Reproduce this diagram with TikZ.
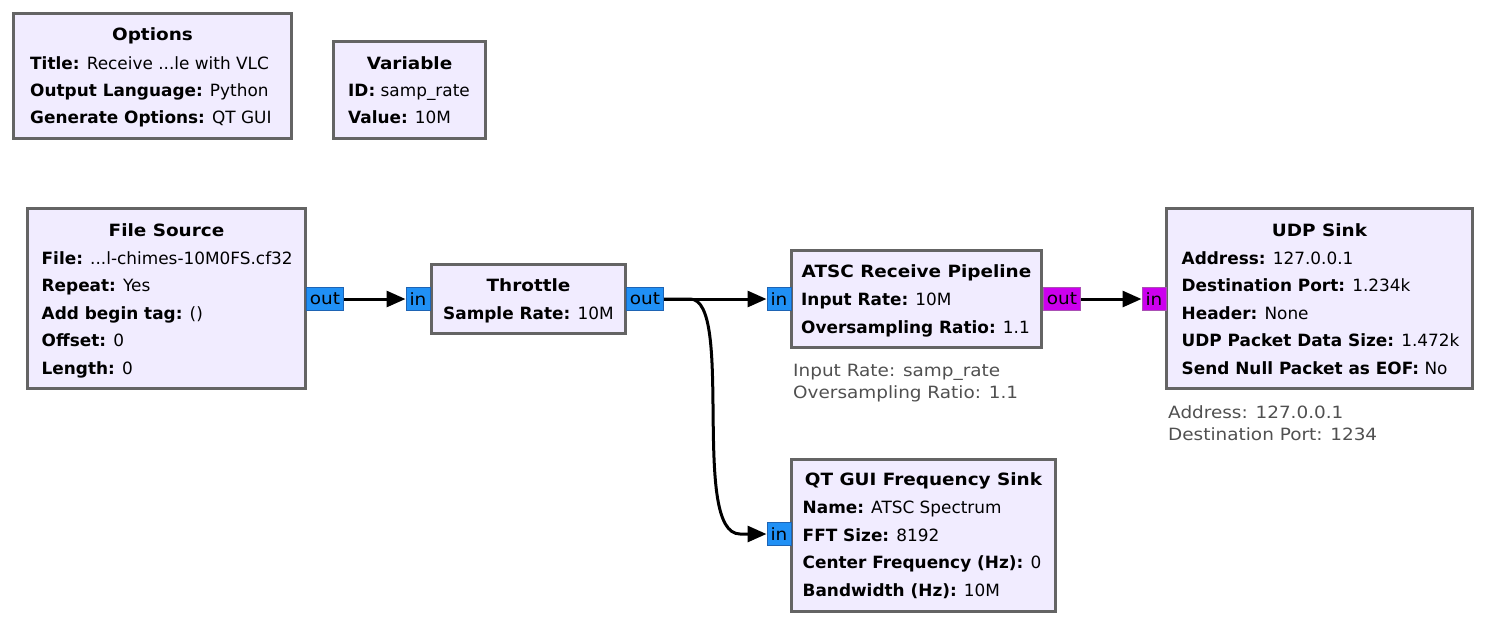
\documentclass[tikz,border=0pt]{standalone}
\usepackage{fontspec}
\setmainfont{DejaVu Sans}
\newfontfamily\widefont{DejaVu Sans}[FakeStretch=1.09]
\usetikzlibrary{arrows.meta}

\definecolor{blockfill}{RGB}{241,236,255}
\definecolor{blockline}{RGB}{100,100,100}
\definecolor{cplxfill}{RGB}{32,144,245}
\definecolor{cplxline}{RGB}{30,100,180}
\definecolor{bytefill}{RGB}{204,0,238}
\definecolor{byteline}{RGB}{170,80,180}
\definecolor{commentgray}{RGB}{80,80,80}

\tikzset{
  block/.style={draw=blockline, fill=blockfill, line width=3pt, inner sep=0pt, outer sep=0pt, anchor=north west},
  head/.style={inner sep=0pt, anchor=base, font=\fontsize{16.9pt}{20pt}\widefont\bfseries},
  prop/.style={inner sep=0pt, anchor=base west},
  cplxport/.style={draw=cplxline, fill=cplxfill, line width=1pt, inner sep=0pt, minimum height=23pt, font=\fontsize{16.9pt}{20pt}\widefont},
  byteport/.style={draw=byteline, fill=bytefill, line width=1pt, inner sep=0pt, minimum height=23pt, font=\fontsize{16.9pt}{20pt}\widefont},
  note/.style={inner sep=0pt, anchor=base west, text=commentgray, font=\fontsize{16.9pt}{20pt}\widefont},
  link/.style={line width=3pt, -{Triangle[length=19pt,width=16pt]}}
}

\begin{document}
\begin{tikzpicture}[x=1pt, y=-1pt, font=\fontsize{16.9pt}{20pt}\selectfont]

\useasboundingbox (0,0) rectangle (1486,625);

% Options block
\node[block, minimum width=278pt, minimum height=125pt] (opts) at (13.5,13.5) {};
\node[head] (opts-t) at (152.5,40.5) {Options};
\node[prop] (opts-1) at (30,69) {\textbf{Title:} Receive ...le with VLC};
\node[prop] (opts-2) at (30,96.5) {\textbf{Output Language:} Python};
\node[prop] (opts-3) at (30,123.5) {\textbf{Generate Options:} QT GUI};

% Variable block
\node[block, minimum width=152pt, minimum height=97pt] (var) at (333.5,41.5) {};
\node[head] (var-t) at (409.5,69) {Variable};
\node[prop] (var-1) at (348,96.5) {\textbf{ID:} samp\_rate};
\node[prop] (var-2) at (348,123.5) {\textbf{Value:} 10M};

% File Source block
\node[block, minimum width=278pt, minimum height=180pt] (fsrc) at (27.5,208.5) {};
\node[head] (fsrc-t) at (166.5,236) {File Source};
\node[prop] (fsrc-1) at (41.5,264) {\textbf{File:} ...l-chimes-10M0FS.cf32};
\node[prop] (fsrc-2) at (41.5,291.5) {\textbf{Repeat:} Yes};
\node[prop] (fsrc-3) at (41.5,319) {\textbf{Add begin tag:} ()};
\node[prop] (fsrc-4) at (41.5,346.5) {\textbf{Offset:} 0};
\node[prop] (fsrc-5) at (41.5,374) {\textbf{Length:} 0};

% Throttle block
\node[block, minimum width=194.5pt, minimum height=69pt] (thr) at (431,264.5) {};
\node[head] (thr-t) at (528.5,291.5) {Throttle};
\node[prop] (thr-1) at (443,319) {\textbf{Sample Rate:} 10M};

% ATSC Receive Pipeline block
\node[block, minimum width=250pt, minimum height=96.5pt] (atsc) at (791.5,250.5) {};
\node[head] (atsc-t) at (916.5,277.5) {ATSC Receive Pipeline};
\node[prop] (atsc-1) at (801,305) {\textbf{Input Rate:} 10M};
\node[prop] (atsc-2) at (801,333) {\textbf{Oversampling Ratio:} 1.1};
\node[note] (atsc-c1) at (793,376.5) {Input Rate: samp\_rate};
\node[note] (atsc-c2) at (793,398) {Oversampling Ratio: 1.1};

% UDP Sink block
\node[block, minimum width=306pt, minimum height=180pt] (udp) at (1166.5,208.5) {};
\node[head] (udp-t) at (1319.5,236) {UDP Sink};
\node[prop] (udp-1) at (1181.5,264) {\textbf{Address:} 127.0.0.1};
\node[prop] (udp-2) at (1181.5,291.5) {\textbf{Destination Port:} 1.234k};
\node[prop] (udp-3) at (1181.5,319) {\textbf{Header:} None};
\node[prop] (udp-4) at (1181.5,346.5) {\textbf{UDP Packet Data Size:} 1.472k};
\node[prop] (udp-5) at (1181.5,374) {\textbf{Send Null Packet as EOF:} No};
\node[note] (udp-c1) at (1168,418) {Address: 127.0.0.1};
\node[note] (udp-c2) at (1168,440) {Destination Port: 1234};

% QT GUI Frequency Sink block
\node[block, minimum width=264pt, minimum height=152.5pt] (qt) at (791.5,459) {};
\node[head] (qt-t) at (923.5,485.5) {QT GUI Frequency Sink};
\node[prop] (qt-1) at (802.5,513) {\textbf{Name:} ATSC Spectrum};
\node[prop] (qt-2) at (802.5,541) {\textbf{FFT Size:} 8192};
\node[prop] (qt-3) at (802.5,568.5) {\textbf{Center Frequency (Hz):} 0};
\node[prop] (qt-4) at (802.5,596) {\textbf{Bandwidth (Hz):} 10M};

% Ports
\node[cplxport, minimum width=37pt] (fsrc-out) at (325,299) {out};
\node[cplxport, minimum width=24pt] (thr-in) at (418,299) {in};
\node[cplxport, minimum width=37pt] (thr-out) at (645,299) {out};
\node[cplxport, minimum width=24pt] (atsc-in) at (779,299) {in};
\node[byteport, minimum width=37pt] (atsc-out) at (1062,299) {out};
\node[byteport, minimum width=24pt] (udp-in) at (1154,299) {in};
\node[cplxport, minimum width=24pt] (qt-in) at (779,534) {in};

% Connections
\coordinate (bend-a) at (690,299);
\coordinate (bend-b) at (740,534);
\draw[link] (fsrc-out) -- (thr-in);
\draw[link] (thr-out) -- (atsc-in);
\draw[link] (atsc-out) -- (udp-in);
\draw[link] (thr-out.east) -- (bend-a) .. controls +(45,0) and +(-50,0) .. (bend-b) -- (qt-in);

\end{tikzpicture}
\end{document}
